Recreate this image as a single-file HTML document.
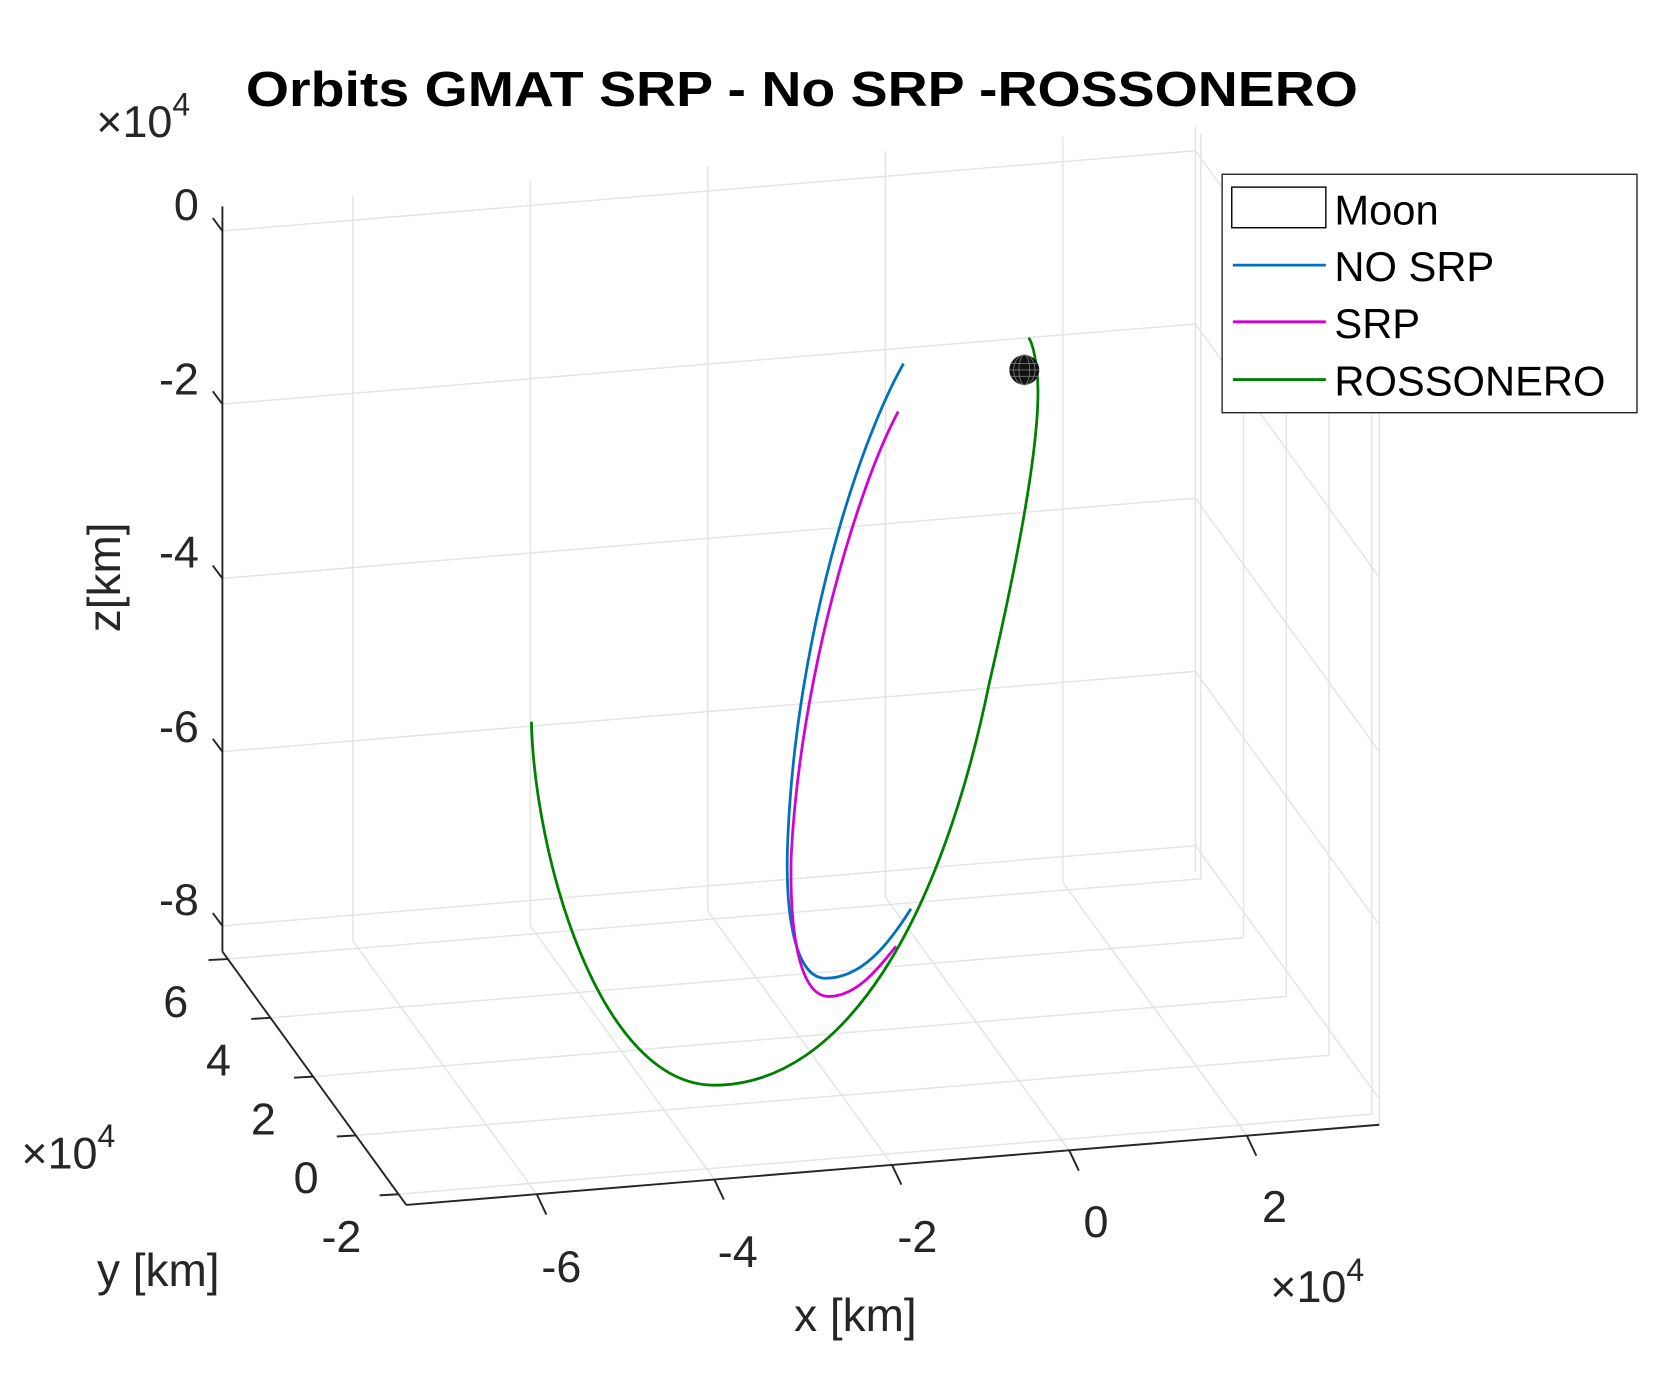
<!DOCTYPE html>
<html><head><meta charset="utf-8"><style>
html,body{margin:0;padding:0;background:#fff;}
svg{display:block;}
text{font-family:"Liberation Sans",Arial,sans-serif;fill:#262626;}
</style></head><body>
<svg width="1668" height="1376" viewBox="0 0 1560 1287" preserveAspectRatio="none" xmlns="http://www.w3.org/2000/svg">
<rect width="1560" height="1287" fill="#fff"/>
<g stroke="#e3e3e3" stroke-width="1.3" fill="none">
  <line x1="208" y1="216" x2="1118" y2="141"/>
  <line x1="208" y1="378" x2="1118" y2="303"/>
  <line x1="208" y1="541" x2="1118" y2="466"/>
  <line x1="208" y1="703" x2="1118" y2="628"/>
  <line x1="208" y1="866" x2="1118" y2="791"/>
  <line x1="330" y1="183" x2="330" y2="880"/>
  <line x1="496" y1="169" x2="496" y2="866"/>
  <line x1="662" y1="155" x2="662" y2="852"/>
  <line x1="828" y1="141" x2="828" y2="839"/>
  <line x1="994" y1="128" x2="994" y2="825"/>
  <line x1="1118" y1="118" x2="1118" y2="815"/>
  <line x1="1118" y1="141" x2="1290" y2="378"/>
  <line x1="1118" y1="303" x2="1290" y2="540"/>
  <line x1="1118" y1="466" x2="1290" y2="703"/>
  <line x1="1118" y1="628" x2="1290" y2="865"/>
  <line x1="1118" y1="791" x2="1290" y2="1028"/>
  <line x1="1123" y1="125" x2="1123" y2="822"/>
  <line x1="1163" y1="180" x2="1163" y2="877"/>
  <line x1="1203" y1="235" x2="1203" y2="932"/>
  <line x1="1243" y1="290" x2="1243" y2="987"/>
  <line x1="1283" y1="345" x2="1283" y2="1042"/>
  <line x1="1290" y1="355" x2="1290" y2="1052"/>
  <line x1="213" y1="897" x2="1123" y2="822"/>
  <line x1="253" y1="952" x2="1163" y2="877"/>
  <line x1="293" y1="1007" x2="1203" y2="932"/>
  <line x1="333" y1="1062" x2="1243" y2="987"/>
  <line x1="373" y1="1117" x2="1283" y2="1042"/>
  <line x1="330" y1="880" x2="502" y2="1117"/>
  <line x1="496" y1="866" x2="668" y2="1103"/>
  <line x1="662" y1="852" x2="834" y2="1089"/>
  <line x1="828" y1="839" x2="1000" y2="1076"/>
  <line x1="994" y1="825" x2="1166" y2="1062"/>
</g>
<g stroke="#262626" stroke-width="1.8" fill="none">
  <line x1="208" y1="193" x2="208" y2="890"/>
  <line x1="208" y1="890" x2="380" y2="1127"/>
  <line x1="380" y1="1127" x2="1290" y2="1052"/>
  <line x1="208" y1="216" x2="199" y2="204"/>
  <line x1="208" y1="378" x2="199" y2="366"/>
  <line x1="208" y1="541" x2="199" y2="529"/>
  <line x1="208" y1="703" x2="199" y2="691"/>
  <line x1="208" y1="866" x2="199" y2="854"/>
  <line x1="213" y1="897" x2="195" y2="898"/>
  <line x1="253" y1="952" x2="235" y2="953"/>
  <line x1="293" y1="1007" x2="275" y2="1008"/>
  <line x1="333" y1="1062" x2="315" y2="1063"/>
  <line x1="373" y1="1117" x2="355" y2="1118"/>
  <line x1="502" y1="1117" x2="511" y2="1136"/>
  <line x1="668" y1="1103" x2="677" y2="1122"/>
  <line x1="834" y1="1089" x2="843" y2="1108"/>
  <line x1="1000" y1="1076" x2="1009" y2="1095"/>
  <line x1="1166" y1="1062" x2="1175" y2="1081"/>
</g>
<g font-size="42" text-anchor="end">
  <text x="186" y="206">0</text>
  <text x="186" y="369">-2</text>
  <text x="186" y="531">-4</text>
  <text x="186" y="694">-6</text>
  <text x="186" y="856">-8</text>
  <text x="176" y="951">6</text>
  <text x="216" y="1006">4</text>
  <text x="258" y="1061">2</text>
  <text x="298" y="1116">0</text>
  <text x="338" y="1171">-2</text>
</g>
<g font-size="42" text-anchor="middle">
  <text x="525" y="1199">-6</text>
  <text x="690" y="1185">-4</text>
  <text x="858" y="1171">-2</text>
  <text x="1025" y="1157">0</text>
  <text x="1192" y="1143">2</text>
</g>
<g font-size="42">
  <text x="90" y="128">×10<tspan font-size="30" dy="-20">4</tspan></text>
  <text x="20" y="1093">×10<tspan font-size="30" dy="-20">4</tspan></text>
  <text x="1188" y="1218">×10<tspan font-size="30" dy="-20">4</tspan></text>
</g>
<g font-size="43">
  <text x="800" y="1245" text-anchor="middle">x [km]</text>
  <text x="148" y="1203" text-anchor="middle">y [km]</text>
  <text transform="translate(112,540) rotate(-90)" text-anchor="middle">z[km]</text>
</g>
<text x="750" y="99" font-size="46" font-weight="bold" text-anchor="middle" style="fill:#000" textLength="1040" lengthAdjust="spacingAndGlyphs">Orbits GMAT SRP - No SRP -ROSSONERO</text>
<g fill="none" stroke-width="2.6">
  <path d="M845,340 C800,420 745,600 737,780 C733,860 745,915 772,915 C805,915 830,885 852,850" stroke="#0072bd"/>
  <path d="M840,385 C800,460 748,640 740,800 C738,880 750,932 775,932 C800,932 820,908 838,885" stroke="#d400d4"/>
  <path d="M497,675 C500,800 560,1015 668,1015 C790,1015 880,860 925,640 C955,510 975,400 970,350 C968,330 965,320 962,316" stroke="#008000"/>
</g>
<g>
  <circle cx="958" cy="346" r="14" fill="#111"/>
  <g stroke="#777" stroke-width="0.8" fill="none">
    <ellipse cx="958" cy="346" rx="5" ry="14"/>
    <ellipse cx="958" cy="346" rx="10" ry="14"/>
    <line x1="945" y1="340" x2="971" y2="340"/>
    <line x1="945" y1="352" x2="971" y2="352"/>
    <line x1="944" y1="346" x2="972" y2="346"/>
  </g>
</g>
<rect x="1143" y="163" width="388" height="223" fill="#fff" stroke="#262626" stroke-width="1.3"/>
<rect x="1152" y="175" width="88" height="38" fill="#fff" stroke="#000" stroke-width="1.3"/>
<line x1="1153" y1="248" x2="1240" y2="248" stroke="#0072bd" stroke-width="2.6"/>
<line x1="1153" y1="301" x2="1240" y2="301" stroke="#d400d4" stroke-width="2.6"/>
<line x1="1153" y1="355" x2="1240" y2="355" stroke="#008000" stroke-width="2.6"/>
<g font-size="39">
  <text x="1248" y="210" style="fill:#000">Moon</text>
  <text x="1248" y="263" style="fill:#000">NO SRP</text>
  <text x="1248" y="316" style="fill:#000">SRP</text>
  <text x="1248" y="370" style="fill:#000">ROSSONERO</text>
</g>
</svg>
</body></html>
